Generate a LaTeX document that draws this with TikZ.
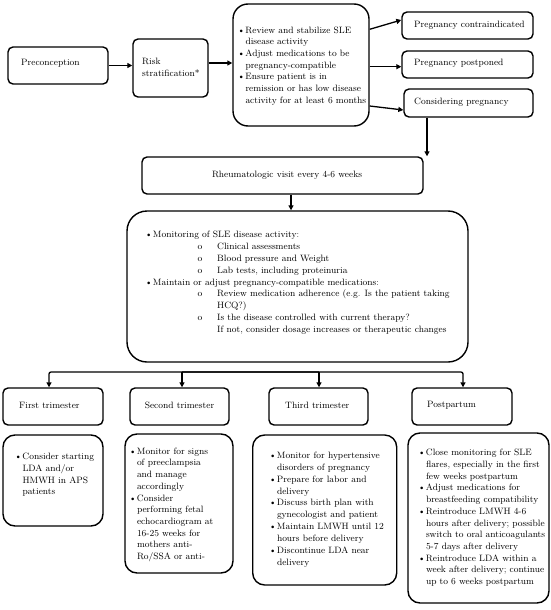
\documentclass[tikz,border=0pt]{standalone}
\usetikzlibrary{arrows.meta}
\newcommand{\myb}{\makebox[7.8pt][l]{\textbullet}}
\newcommand{\myi}{\hspace*{7.8pt}}
\newcommand{\mysub}{\hspace*{52.5pt}\makebox[19.5pt][l]{o}}
\newcommand{\mysubi}{\hspace*{72pt}}
\begin{document}
\begin{tikzpicture}[x=1pt,y=-1pt,
  box/.style={draw, line width=1.4pt, inner sep=0pt},
  sbox/.style={box, rounded corners=5pt},
  cbox/.style={box, rounded corners=12pt},
  txt/.style={inner sep=0pt, align=left, font=\fontsize{9.2}{11.7}\selectfont},
  arr/.style={line width=1.3pt, -{Triangle[length=5pt,width=5pt]}}]
\useasboundingbox (0,0) rectangle (550,610);
% top row
\node[sbox, minimum width=100pt, minimum height=37pt] (pre) at (58,65.5) {};
\node[txt, anchor=west] (pre-t) at (21,63.5) {Preconception};
\node[sbox, minimum width=75pt, minimum height=58pt] (risk) at (170.5,68) {};
\node[txt, anchor=north west, font=\fontsize{9.2}{12.3}\selectfont] (risk-t) at (142,57.5) {Risk\\stratification*};
\node[box, rounded corners=15pt, minimum width=136pt, minimum height=122pt] (rev) at (301,65) {};
\node[txt, anchor=north west] (rev-t) at (237.5,26.5) {\myb Review and stabilize SLE\\
\myi disease activity\\
\myb Adjust medications to be\\
\myi pregnancy-compatible\\
\myb Ensure patient is in\\
\myi remission or has low disease\\
\myi activity for at least 6 months};
\node[sbox, minimum width=131pt, minimum height=27pt] (con) at (467.5,25.5) {};
\node[txt, anchor=west] (con-t) at (414,25) {Pregnancy contraindicated};
\node[sbox, minimum width=131pt, minimum height=27pt] (pos) at (467.5,64.5) {};
\node[txt, anchor=west] (pos-t) at (414,63.5) {Pregnancy postponed};
\node[sbox, minimum width=129pt, minimum height=28pt] (cns) at (468.5,103) {};
\node[txt, anchor=west] (cns-t) at (414,102.5) {Considering pregnancy};
% rheumatologic visit
\node[sbox, minimum width=281pt, minimum height=37pt] (rh) at (282.5,175.5) {};
\node[txt] (rh-t) at (287,175.5) {Rheumatologic visit every 4-6 weeks};
% monitoring
\node[box, rounded corners=20pt, minimum width=341pt, minimum height=151pt] (mon) at (297.5,286.5) {};
\node[txt, anchor=north west, font=\fontsize{9.2}{11.85}\selectfont] (mon-t) at (145,231) {\myb Monitoring of SLE disease activity:\\
\mysub Clinical assessments\\
\mysub Blood pressure and Weight\\
\mysub Lab tests, including proteinuria\\
\myb Maintain or adjust pregnancy-compatible medications:\\
\mysub Review medication adherence (e.g. Is the patient taking\\
\mysubi HCQ?)\\
\mysub Is the disease controlled with current therapy?\\
\mysubi If not, consider dosage increases or therapeutic changes};
% headers
\node[sbox, minimum width=100pt, minimum height=37pt] (fth) at (53,406.5) {};
\node[txt, anchor=west] (fth-t) at (19,405.5) {First trimester};
\node[sbox, minimum width=99pt, minimum height=37pt] (sth) at (179.5,406.5) {};
\node[txt] (sth-t) at (179.5,405.5) {Second trimester};
\node[sbox, minimum width=99pt, minimum height=37pt] (tth) at (318.5,406.5) {};
\node[txt, anchor=west] (tth-t) at (285,405.5) {Third trimester};
\node[sbox, minimum width=100pt, minimum height=37pt] (pph) at (462,406.5) {};
\node[txt, anchor=west] (pph-t) at (427,405.5) {Postpartum};
% content boxes
\node[cbox, minimum width=100pt, minimum height=91pt] (fc) at (53,480.5) {};
\node[txt, anchor=north west] (fc-t) at (14.5,453.2) {\myb Consider starting\\
\myi LDA and/or\\
\myi HMWH in APS\\
\myi patients};
\node[cbox, minimum width=108pt, minimum height=139pt] (sc) at (179,503.5) {};
\node[txt, anchor=north west] (sc-t) at (129,447.6) {\myb Monitor for signs\\
\myi of preeclampsia\\
\myi and manage\\
\myi accordingly\\
\myb Consider\\
\myi performing fetal\\
\myi echocardiogram at\\
\myi 16-25 weeks for\\
\myi mothers anti-\\
\myi Ro/SSA or anti-};
\node[cbox, minimum width=144pt, minimum height=150pt] (tc) at (324.7,510) {};
\node[txt, anchor=north west, font=\fontsize{9.2}{11.85}\selectfont] (tc-t) at (269,451.9) {\myb Monitor for hypertensive\\
\myi disorders of pregnancy\\
\myb Prepare for labor and\\
\myi delivery\\
\myb Discuss birth plan with\\
\myi gynecologist and patient\\
\myb Maintain LMWH until 12\\
\myi hours before delivery\\
\myb Discontinue LDA near\\
\myi delivery};
\node[cbox, minimum width=141pt, minimum height=170pt] (pc) at (478.5,518) {};
\node[txt, anchor=north west] (pc-t) at (418,449.2) {\myb Close monitoring for SLE\\
\myi flares, especially in the first\\
\myi few weeks postpartum\\
\myb Adjust medications for\\
\myi breastfeeding compatibility\\
\myb Reintroduce LMWH 4-6\\
\myi hours after delivery; possible\\
\myi switch to oral anticoagulants\\
\myi 5-7 days after delivery\\
\myb Reintroduce LDA within a\\
\myi week after delivery; continue\\
\myi up to 6 weeks postpartum};
% connectors
\draw[arr] (pre.east) -- (pre.east -| risk.west);
\draw[arr] ([yshift=5pt]risk.east) -- ([yshift=5pt]risk.east -| rev.west);
\draw[arr] ([yshift=35.7pt]rev.east) -- ([yshift=5.5pt]con.west);
\draw[arr] ([yshift=-1.7pt]rev.east) -- ([yshift=-2.2pt]pos.west);
\draw[arr] ([yshift=-41pt]rev.east) -- ([yshift=-7pt]cns.west);
\draw[arr] ([xshift=-41.5pt]cns.south) -- ([xshift=-41.5pt]cns.south |- rh.north);
\draw[arr] ([xshift=8.5pt]rh.south) -- ([xshift=8.5pt]rh.south |- mon.north);
\coordinate (b1) at (49,372);
\coordinate (b2) at (182,372);
\coordinate (b3) at (319,372);
\coordinate (b4) at (463,372);
\draw[arr, rounded corners=2pt] (b3) -- (b1) -- (b1 |- fth.north);
\draw[arr, rounded corners=2pt] (b2) -- (b4) -- (b4 |- pph.north);
\draw[arr] (b2) -- (b2 |- sth.north);
\draw[arr] (b3) -- (b3 |- tth.north);
\end{tikzpicture}
\end{document}
